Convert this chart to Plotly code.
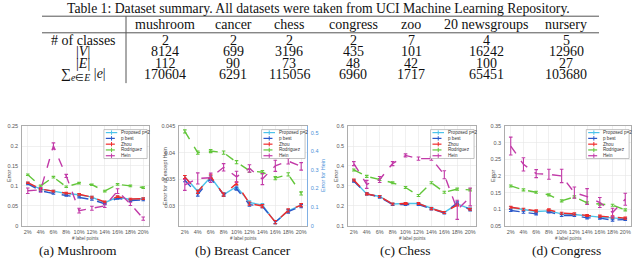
import plotly.graph_objects as go

W, H = 640, 263

# ---------------- table data ----------------
table_title = "Table 1: Dataset summary. All datasets were taken from UCI Machine Learning Repository."
datasets = ["mushroom", "cancer", "chess", "congress", "zoo", "20 newsgroups", "nursery"]
row_labels = ["# of classes", "|<i>V</i>|", "|<i>E</i>|", "∑<sub><i>e</i>∈<i>E</i></sub> |<i>e</i>|"]
n_classes = [2, 2, 2, 2, 7, 4, 5]
n_vertices = [8124, 699, 3196, 435, 101, 16242, 12960]
n_edges = [112, 90, 73, 48, 42, 100, 27]
sum_edge_sizes = [170604, 6291, 115056, 6960, 1717, 65451, 103680]

# ---------------- chart data ----------------
label_points = ["2%", "4%", "6%", "8%", "10%", "12%", "14%", "16%", "18%", "20%"]
series_names = ["Proposed p=2", "p best", "Zhou", "Rodriguez", "Hein"]

# (a) Mushroom
mush_proposed = [0.107, 0.092, 0.087, 0.081, 0.078, 0.072, 0.058, 0.072, 0.066, 0.068]
mush_pbest = [0.105, 0.088, 0.081, 0.076, 0.072, 0.066, 0.055, 0.069, 0.063, 0.065]
mush_zhou = [0.108, 0.092, 0.087, 0.082, 0.079, 0.072, 0.060, 0.073, 0.067, 0.068]
mush_rodriguez = [0.128, 0.100, 0.122, 0.098, 0.107, 0.103, 0.087, 0.104, 0.100, 0.096]
mush_hein = [0.088, 0.090, 0.200, 0.125, 0.038, 0.044, 0.050, 0.087, 0.055, 0.018]
mush_hein_err = [0.007, 0.006, 0.008, 0.004, 0.006, 0.005, 0.004, 0.006, 0.004, 0.004]
mush_small_err = [0.002, 0.002, 0.002, 0.002, 0.002, 0.002, 0.002, 0.002, 0.002, 0.002]

# (b) Breast Cancer (Hein on right axis)
canc_proposed = [0.0354, 0.0327, 0.0354, 0.0321, 0.0336, 0.0306, 0.0301, 0.0269, 0.0290, 0.0301]
canc_pbest = [0.0348, 0.0321, 0.0351, 0.0321, 0.0332, 0.0302, 0.0299, 0.0269, 0.0289, 0.0299]
canc_zhou = [0.0354, 0.0326, 0.0355, 0.0321, 0.0342, 0.0304, 0.0299, 0.0269, 0.0291, 0.0301]
canc_rodriguez = [0.0440, 0.0400, 0.0403, 0.0400, 0.0382, 0.0366, 0.0363, 0.0352, 0.0359, 0.0323]
canc_hein = [0.220, 0.254, 0.258, 0.314, 0.263, 0.308, 0.251, 0.322, 0.347, 0.319]
canc_hein_err = [0.030, 0.030, 0.025, 0.020, 0.030, 0.020, 0.030, 0.030, 0.015, 0.020]
canc_small_err = [0.0003, 0.0003, 0.0003, 0.0003, 0.0003, 0.0003, 0.0003, 0.0003, 0.0003, 0.0003]

# (c) Chess
chess_proposed = [0.327, 0.260, 0.247, 0.209, 0.212, 0.212, 0.188, 0.167, 0.209, 0.185]
chess_pbest = [0.324, 0.260, 0.244, 0.207, 0.207, 0.207, 0.185, 0.164, 0.215, 0.180]
chess_zhou = [0.330, 0.260, 0.247, 0.209, 0.212, 0.212, 0.186, 0.167, 0.204, 0.183]
chess_rodriguez = [0.380, 0.348, 0.332, 0.316, 0.292, 0.252, 0.316, 0.268, 0.284, 0.280]
chess_hein = [0.412, 0.308, 0.332, 0.412, 0.453, 0.437, 0.437, 0.356, 0.180, 0.245]
chess_hein_err = [0.010, 0.020, 0.015, 0.010, 0.008, 0.008, 0.008, 0.020, 0.048, 0.045]
chess_small_err = [0.005, 0.005, 0.005, 0.005, 0.005, 0.005, 0.005, 0.005, 0.005, 0.005]

# (d) Congress
cong_proposed = [0.105, 0.098, 0.093, 0.095, 0.086, 0.084, 0.079, 0.076, 0.074, 0.071]
cong_pbest = [0.096, 0.091, 0.086, 0.092, 0.081, 0.081, 0.074, 0.073, 0.067, 0.069]
cong_zhou = [0.106, 0.100, 0.095, 0.098, 0.088, 0.086, 0.081, 0.079, 0.077, 0.073]
cong_rodriguez = [0.170, 0.158, 0.151, 0.143, 0.125, 0.137, 0.119, 0.115, 0.112, 0.098]
cong_hein = [0.290, 0.235, 0.207, 0.205, 0.200, 0.150, 0.138, 0.120, 0.090, 0.130]
cong_hein_err = [0.027, 0.020, 0.012, 0.015, 0.020, 0.017, 0.024, 0.015, 0.013, 0.018]
cong_small_err = [0.003, 0.003, 0.003, 0.003, 0.003, 0.003, 0.003, 0.003, 0.003, 0.003]

captions = ["(a) Mushroom", "(b) Breast Cancer", "(c) Chess", "(d) Congress"]

# ---------------- styling ----------------
colors = {"Proposed p=2": "#4cc3ea", "p best": "#2b58c9", "Zhou": "#f02a2a",
          "Rodriguez": "#62c63a", "Hein": "#c23aa8"}
dashes = {"Proposed p=2": "solid", "p best": "dash", "Zhou": "dash",
          "Rodriguez": "dash", "Hein": "dash"}
SERIF = "Liberation Serif"
SANS = "Liberation Sans"
TICK = dict(family=SANS, size=5.5, color="#555")

def px(x):
    return x / W

def py(y):
    return 1 - y / H

plot_x = [(22, 149), (179, 307), (348, 476), (505, 631)]
top_px, bot_px = 126, 228

fig = go.Figure()

panels = [
    (mush_proposed, mush_pbest, mush_zhou, mush_rodriguez, mush_hein, mush_hein_err, mush_small_err),
    (canc_proposed, canc_pbest, canc_zhou, canc_rodriguez, canc_hein, canc_hein_err, canc_small_err),
    (chess_proposed, chess_pbest, chess_zhou, chess_rodriguez, chess_hein, chess_hein_err, chess_small_err),
    (cong_proposed, cong_pbest, cong_zhou, cong_rodriguez, cong_hein, cong_hein_err, cong_small_err),
]
yaxis_ids = ["y", "y2", "y4", "y5"]
xaxis_ids = ["x", "x2", "x3", "x4"]

for i, (prop, pb, zh, ro, he, he_err, s_err) in enumerate(panels):
    xa, ya = xaxis_ids[i], yaxis_ids[i]
    vals = [prop, pb, zh, ro, he]
    for name, v in zip(series_names, vals):
        yref_axis = ya
        if i == 1 and name == "Hein":
            yref_axis = "y3"
        err = he_err if name == "Hein" else s_err
        fig.add_trace(go.Scatter(
            x=label_points, y=v, mode="lines", name=name, showlegend=False,
            line=dict(color=colors[name], width=1.4, dash=dashes[name]),
            error_y=dict(type="data", array=err, visible=True, color=colors[name],
                         thickness=1.1, width=1.8),
            xaxis=xa, yaxis=yref_axis))

yranges = [[0, 0.25], [0.0262, 0.045], [0.1, 0.6], [0.05, 0.35]]
ydticks = [0.05, 0.005, 0.1, 0.05]

layout = dict(width=W, height=H, margin=dict(l=0, r=0, t=0, b=0),
              paper_bgcolor="white", plot_bgcolor="white", showlegend=False)

ax_common = dict(showgrid=True, gridcolor="#e6e6e6", gridwidth=0.6, zeroline=False,
                 showline=True, linecolor="#8a8a8a", linewidth=0.7, mirror=True,
                 ticks="outside", ticklen=0, tickfont=TICK)

for i in range(4):
    l, r = plot_x[i]
    xname = "xaxis" if i == 0 else f"xaxis{i+1}"
    ynum = [1, 2, 4, 5][i]
    yname = "yaxis" if ynum == 1 else f"yaxis{ynum}"
    layout[xname] = dict(ax_common, domain=[px(l), px(r)], anchor=yaxis_ids[i],
                         type="category", range=[-0.45, 9.45], tickangle=0,
                         ticklabelstandoff=1)
    layout[yname] = dict(ax_common, domain=[py(bot_px), py(top_px)], anchor=xaxis_ids[i],
                         range=yranges[i], dtick=ydticks[i], tick0=0,
                         ticklabelstandoff=2)
    if i == 1:
        layout[yname]["mirror"] = False

layout["yaxis3"] = dict(overlaying="y2", side="right", anchor="x2", range=[0, 0.535], dtick=0.1,
                        showgrid=False, zeroline=False, showline=True, linecolor="#4a8fd8",
                        linewidth=0.7, ticks="outside", ticklen=0, ticklabelstandoff=2,
                        tickfont=dict(family=SANS, size=5.5, color="#4a8fd8"))

fig.update_layout(**layout)

ann = []
shapes = []

def text(t, x, y, size, family=SANS, color="#555", angle=0, xanchor="center"):
    ann.append(dict(text=t, x=px(x), y=py(y), xref="paper", yref="paper", showarrow=False,
                    xanchor=xanchor, yanchor="middle", textangle=angle,
                    font=dict(family=family, size=size, color=color)))

mid_y = (top_px + bot_px) / 2
text("Error", 9, mid_y, 5.5, angle=-90)
text("Error for all except Hein", 165, mid_y, 5.5, angle=-90)
text("Error for Hein", 323, mid_y, 5.5, color="#4a8fd8", angle=-90)
text("Error", 336, mid_y, 5.5, angle=-90)
text("Error", 493, mid_y, 5.5, angle=-90)
for l, r in plot_x:
    text("# label points", (l + r) / 2, 241, 4.5)

cap_x = [78, 243, 405, 566]
for c, x in zip(captions, cap_x):
    text(c, x, 253, 13.5, family=SERIF, color="#111")

# legends drawn inside each axis domain
for i in range(4):
    xd = f"{xaxis_ids[i]} domain"
    yd = f"{yaxis_ids[i]} domain"
    shapes.append(dict(type="rect", xref=xd, yref=yd, x0=0.645, x1=0.985, y0=0.675, y1=0.965,
                       line=dict(color="#9a9a9a", width=0.6), fillcolor="white", layer="above"))
    for k, name in enumerate(series_names):
        yy = 0.935 - k * 0.058
        shapes.append(dict(type="line", xref=xd, yref=yd, x0=0.66, x1=0.75, y0=yy, y1=yy,
                           line=dict(color=colors[name], width=1.2, dash="solid" if k == 0 else "dash"),
                           layer="above"))
        shapes.append(dict(type="line", xref=xd, yref=yd, x0=0.705, x1=0.705, y0=yy - 0.022, y1=yy + 0.022,
                           line=dict(color=colors[name], width=1.0), layer="above"))
        ann.append(dict(text=name, x=0.765, y=yy, xref=xd, yref=yd, xanchor="left", yanchor="middle",
                        showarrow=False, font=dict(family=SANS, size=4.6, color="#333")))

# table
tab_l, tab_r, tab_sep = 42, 599, 126
TF = 14
text(table_title, 318, 6, 13.7, family=SERIF, color="#111")
for yline in (13.5, 30.5):
    shapes.append(dict(type="line", xref="paper", yref="paper", x0=px(tab_l), x1=px(tab_r),
                       y0=py(yline), y1=py(yline), line=dict(color="#555", width=1)))
shapes.append(dict(type="line", xref="paper", yref="paper", x0=px(tab_sep), x1=px(tab_sep),
                   y0=py(13.5), y1=py(82), line=dict(color="#555", width=1)))
col_x = [165, 233, 289, 353, 411, 486, 566]
row_y = [38.5, 50, 61.5, 73.5]
for name, x in zip(datasets, col_x):
    text(name, x, 22, TF, family=SERIF, color="#111")
rows = [n_classes, n_vertices, n_edges, sum_edge_sizes]
for lab, vals, y in zip(row_labels, rows, row_y):
    text(lab, 83, y, TF, family=SERIF, color="#111")
    for v, x in zip(vals, col_x):
        text(str(v), x, y, TF, family=SERIF, color="#111")

fig.update_layout(annotations=ann, shapes=shapes)
fig.write_html("out.html", config={"displayModeBar": False, "staticPlot": True},
               post_script="document.body.style.margin='0';document.body.style.padding='0';"
                           "document.body.style.overflow='hidden';")
